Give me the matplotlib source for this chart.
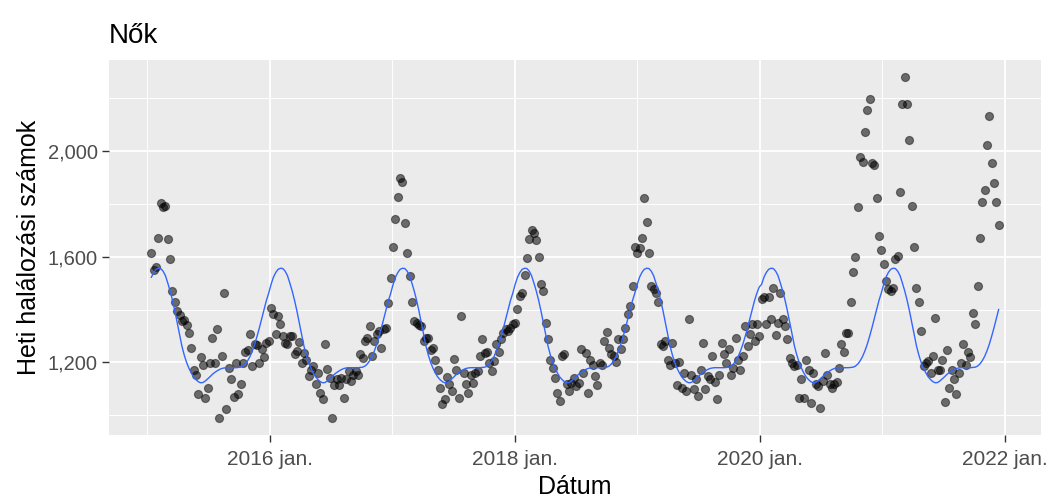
import numpy as np
import pandas as pd
import matplotlib
matplotlib.use("Agg")
import matplotlib.pyplot as plt
import matplotlib.dates as mdates
from matplotlib.ticker import FuncFormatter

plt.rcParams["font.family"] = ["Liberation Sans", "DejaVu Sans"]

# --- Data (weekly deaths, women) ---
start_date = "2015-01-13"

weekly_deaths = [
    # 2015
    1612, 1548, 1560, 1670, 1802, 1786, 1792, 1666, 1590, 1470, 1430, 1394, 1378,
    1357, 1360, 1340, 1312, 1253, 1173, 1154, 1079, 1220, 1192, 1066, 1104, 1198,
    1293, 1198, 1327, 990, 1226, 1461, 1024, 1180, 1138, 1070, 1198, 1079, 1120,
    1198, 1239, 1247, 1309, 1186, 1268, 1264, 1196, 1249, 1221, 1274, 1281, 1407,
    # 2016
    1382, 1306, 1375, 1344, 1300, 1274, 1268, 1300, 1300, 1230, 1243, 1277, 1198,
    1237, 1210, 1148, 1173, 1186, 1117, 1161, 1085, 1062, 1268, 1176, 1140, 990,
    1113, 1136, 1113, 1140, 1066, 1136, 1167, 1129, 1154, 1167, 1154, 1230, 1218,
    1281, 1293, 1338, 1224, 1281, 1306, 1319, 1255, 1327, 1331, 1423, 1521,
    # 2017
    1637, 1744, 1826, 1896, 1881, 1727, 1612, 1527, 1429, 1357, 1350, 1340, 1338,
    1281, 1293, 1293, 1247, 1255, 1211, 1173, 1104, 1043, 1060, 1146, 1117, 1091,
    1214, 1173, 1064, 1375, 1161, 1117, 1085, 1151, 1123, 1161, 1167, 1224, 1290,
    1237, 1239, 1196, 1167, 1205, 1268, 1239, 1290, 1312, 1325, 1319, 1331, 1344,
    1350,
    # 2018
    1403, 1451, 1464, 1530, 1593, 1666, 1700, 1689, 1663, 1597, 1495, 1470, 1350,
    1287, 1211, 1180, 1140, 1085, 1053, 1224, 1230, 1117, 1091, 1123, 1142, 1110,
    1123, 1249, 1161, 1237, 1085, 1211, 1192, 1150, 1113, 1196, 1189, 1281, 1315,
    1255, 1230, 1226, 1201, 1287, 1250, 1290, 1331, 1382, 1413, 1489, 1638,
    # 2019
    1613, 1631, 1672, 1820, 1732, 1612, 1489, 1477, 1464, 1429, 1268, 1262, 1281,
    1211, 1189, 1274, 1198, 1113, 1201, 1104, 1161, 1091, 1363, 1154, 1098, 1136,
    1072, 1173, 1274, 1098, 1148, 1136, 1224, 1126, 1060, 1154, 1274, 1230, 1198,
    1249, 1154, 1180, 1293, 1211, 1173, 1224, 1338, 1262, 1306, 1344, 1281,
    # 2020
    1344, 1300, 1441, 1449, 1344, 1449, 1363, 1483, 1302, 1348, 1464, 1363, 1338,
    1287, 1218, 1196, 1186, 1192, 1066, 1136, 1066, 1211, 1173, 1047, 1161, 1117,
    1110, 1028, 1129, 1237, 1154, 1117, 1104, 1117, 1126, 1180, 1268, 1239, 1312,
    1312, 1429, 1543, 1597, 1786, 1975, 1956, 2070, 2156, 2196, 1954, 1946, 1820,
    # 2021
    1679, 1626, 1571, 1508, 1477, 1470, 1480, 1590, 1603, 1845, 2177, 2279, 2177,
    2042, 1792, 1637, 1482, 1429, 1319, 1186, 1198, 1205, 1161, 1226, 1369, 1173,
    1171, 1211, 1051, 1247, 1104, 1171, 1136, 1079, 1161, 1198, 1268, 1192, 1239,
    1220, 1388, 1346, 1489, 1671, 1805, 1853, 2022, 2131, 1954, 1878, 1805, 1719,
]

# fitted seasonal curve, by week of year (0..52)
seasonal_fit = [
    1495, 1522, 1540, 1552, 1556, 1555, 1545, 1528, 1500, 1470, 1435, 1395, 1350,
    1305, 1262, 1228, 1200, 1178, 1160, 1145, 1135, 1127, 1123, 1124, 1130, 1138,
    1146, 1155, 1162, 1168, 1173, 1177, 1179, 1180, 1180, 1180, 1180, 1180, 1181,
    1182, 1186, 1194, 1206, 1222, 1243, 1268, 1298, 1330, 1365, 1400, 1434, 1462,
    1485,
]

x_tick_dates = ["2016-01-01", "2018-01-01", "2020-01-01", "2022-01-01"]
x_tick_labels = ["2016 jan.", "2018 jan.", "2020 jan.", "2022 jan."]
x_minor_dates = ["2015-01-01", "2017-01-01", "2019-01-01", "2021-01-01"]
y_ticks = [1200, 1600, 2000]
y_minor = [1000, 1400, 1800, 2200]

dates = pd.date_range(start_date, periods=len(weekly_deaths), freq="7D")
week_of_year = np.minimum((dates.dayofyear - 1) // 7, len(seasonal_fit) - 1)
fitted = np.array(seasonal_fit)[week_of_year]

# --- Plot ---
fig = plt.figure(figsize=(10.48, 4.99), dpi=100)
ax = fig.add_axes([109 / 1048, 1 - 435 / 499, (1041 - 109) / 1048, (435 - 60) / 499])
ax.set_facecolor("#EBEBEB")

ax.scatter(dates, weekly_deaths, s=34, facecolor=(0, 0, 0, 0.55),
           edgecolor=(0, 0, 0, 0.45), linewidths=0.8, zorder=3)
ax.plot(dates, fitted, color="#3366FF", lw=1.0, zorder=4)

# ggplot-like limits (5% expansion)
xmin, xmax = mdates.date2num(dates[0]), mdates.date2num(dates[-1])
xpad = (xmax - xmin) * 0.05
ax.set_xlim(xmin - xpad, xmax + xpad)
ymin, ymax = min(weekly_deaths), max(weekly_deaths)
ypad = (ymax - ymin) * 0.05
ax.set_ylim(ymin - ypad, ymax + ypad)

ax.set_xticks(pd.to_datetime(x_tick_dates))
ax.set_xticklabels(x_tick_labels)
ax.set_xticks(pd.to_datetime(x_minor_dates), minor=True)
ax.set_yticks(y_ticks)
ax.set_yticks(y_minor, minor=True)
ax.yaxis.set_major_formatter(FuncFormatter(lambda v, p: f"{int(v):,}"))

ax.grid(which="major", color="white", lw=1.3)
ax.grid(which="minor", color="white", lw=0.7)
ax.set_axisbelow(True)
for s in ax.spines.values():
    s.set_visible(False)

ax.tick_params(which="major", length=5, width=1, color="#333333",
               labelcolor="#4D4D4D", labelsize=15)
ax.tick_params(axis="x", which="major", pad=6)
ax.tick_params(axis="y", which="major", pad=3, labelsize=14.5)
ax.tick_params(which="minor", length=0)

ax.set_xlabel("Dátum", fontsize=18, labelpad=4)
ax.set_ylabel("Heti halálozási számok", fontsize=18, labelpad=5)
ax.set_title("Nők", loc="left", fontsize=20, pad=12)

fig.savefig("out.png", dpi=100)
